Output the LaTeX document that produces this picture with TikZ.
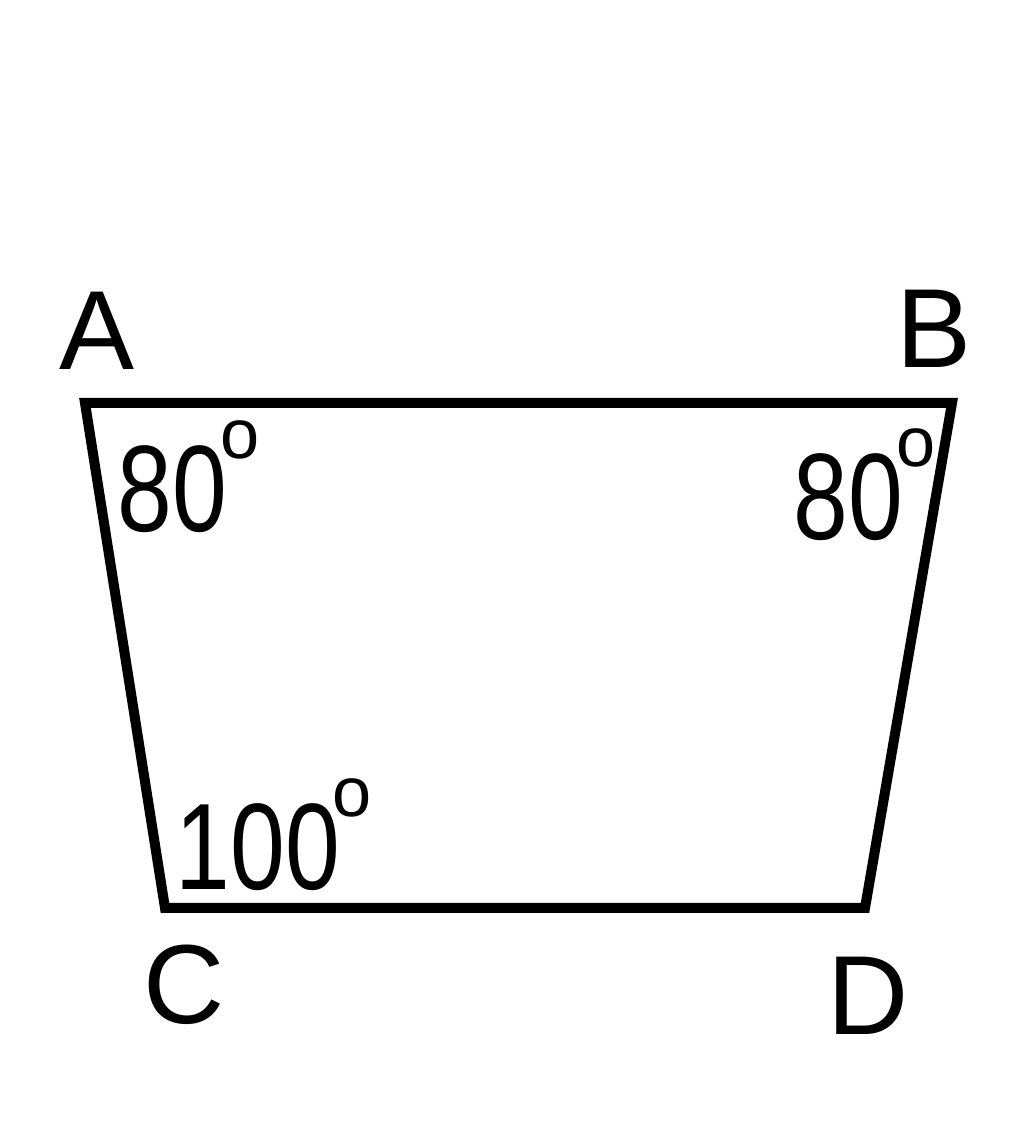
\documentclass[tikz,border=0pt]{standalone}
\usepackage{fontspec}
\setmainfont{Liberation Sans}

\newcommand{\narrow}[1]{\scalebox{0.8}[1]{#1}}
\newcommand{\degmark}{\hspace{-2pt}\raisebox{21pt}{\fontsize{20}{20}\selectfont o}}

\begin{document}
\begin{tikzpicture}

\def\side{0.1cm}

\tikzstyle{vertexLabel}=[inner sep=0pt,anchor=base,font=\fontsize{32}{38}\selectfont]
\tikzstyle{angleLabel}=[inner sep=0pt,anchor=base west,font=\fontsize{35}{42}\selectfont]

\useasboundingbox (0,0) rectangle (10.24,11.29);

%Corners
\coordinate (A) at (0.85,7.26);
\coordinate (B) at (9.52,7.26);
\coordinate (C) at (1.65,2.21);
\coordinate (D) at (8.65,2.21);

\draw[line width=\side,line join=miter] (A) -- (B) -- (D) -- (C) -- cycle;

\node[vertexLabel] (labelA) at (0.97,7.59) {A};
\node[vertexLabel] (labelB) at (9.34,7.61) {B};
\node[vertexLabel] (labelC) at (1.84,1.05) {C};
\node[vertexLabel] (labelD) at (8.68,0.94) {D};

%angles
\node[angleLabel] (angleA) at (1.17,5.97) {\narrow{80}\degmark};
\node[angleLabel] (angleB) at (7.93,5.89) {\narrow{80}\degmark};
\node[angleLabel] (angleC) at (1.75,2.39) {\narrow{100}\degmark};

\end{tikzpicture}
\end{document}
